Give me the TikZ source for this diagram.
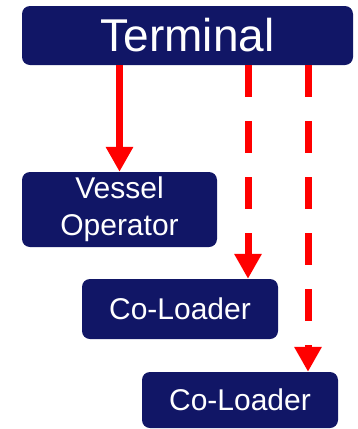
\documentclass[tikz,border=0pt]{standalone}
\usepackage{fontspec}
\setmainfont{Liberation Sans}
\usetikzlibrary{arrows.meta}

\definecolor{boxnavy}{RGB}{17,22,102}
\definecolor{linkred}{RGB}{255,0,0}

\tikzset{
    party/.style = {rectangle,
                    fill = boxnavy,
                    rounded corners = 8pt,
                    text = white,
                    inner sep = 0pt,
                    align = center},
    link/.style = {draw = linkred, line width = 7pt},
    dashedlink/.style = {link, dash pattern = on 32pt off 24pt}
}

\begin{document}
\begin{tikzpicture}[x=1pt, y=1pt, ->, >={Triangle[width=26pt,length=25pt]}]

    \useasboundingbox (0,0) rectangle (358,-429);

    \node[party,
          minimum width = 331pt,
          minimum height = 59pt,
          font = \fontsize{46}{50}\selectfont
          ] (terminal) at (187.5,-35.5) {Terminal};

    \node[party,
          minimum width = 195pt,
          minimum height = 75pt,
          font = \fontsize{30}{37}\selectfont
          ] (vessel) at (119.5,-209.5) {Vessel\\Operator};

    \node[party,
          minimum width = 196pt,
          minimum height = 60pt,
          font = \fontsize{30}{36}\selectfont
          ] (coload1) at (180,-309) {Co-Loader};

    \node[party,
          minimum width = 196pt,
          minimum height = 56pt,
          font = \fontsize{30}{36}\selectfont
          ] (coload2) at (240,-400) {Co-Loader};

    % arrow ends on the co-loaders
    \coordinate (tip1) at ([xshift=68pt]coload1.north);
    \coordinate (tip2) at ([xshift=68pt]coload2.north);

    \path
    (terminal.south -| vessel.north) edge [link] (vessel.north)
    (terminal.south -| tip1) edge [dashedlink] (tip1)
    (terminal.south -| tip2) edge [dashedlink] (tip2);

\end{tikzpicture}
\end{document}
